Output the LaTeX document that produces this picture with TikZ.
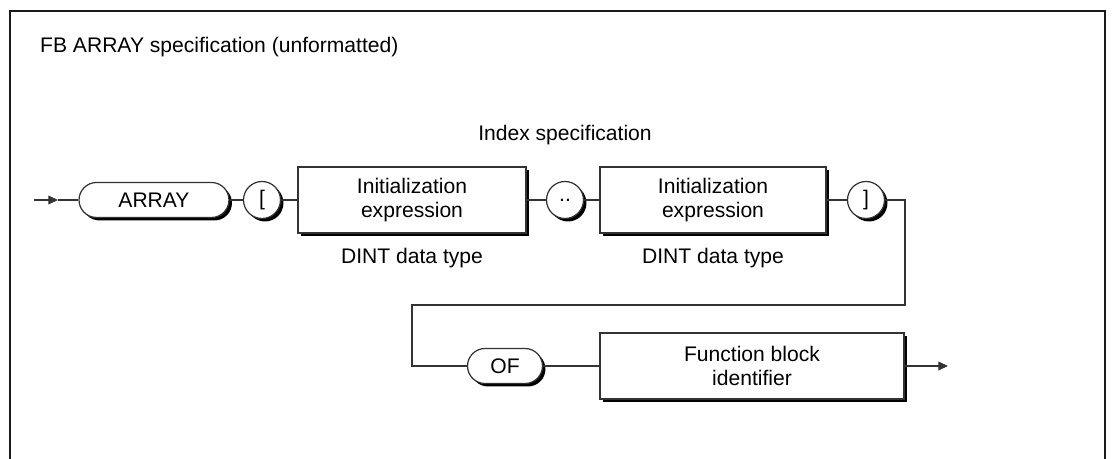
\documentclass[tikz,border=0pt]{standalone}
\usepackage{fontspec}
\setmainfont{Liberation Sans}
\usetikzlibrary{shadows,arrows.meta}
\definecolor{synline}{HTML}{333333}
\definecolor{synframe}{HTML}{1a1a1a}

\tikzset{
  synbox/.style={draw=synline,line width=0.7pt,fill=white,align=center,inner sep=0pt,
    drop shadow={shadow xshift=1.7pt,shadow yshift=-1.7pt,opacity=1,fill=black}},
  synterm/.style={synbox,minimum height=0.7cm,rounded corners=0.35cm},
  syncirc/.style={synbox,circle,minimum size=0.74cm},
  synrule/.style={synbox,minimum height=1.32cm},
  synlink/.style={draw=synline,line width=0.7pt},
  syntip/.style={-{Triangle[length=5.5pt,width=5pt]}},
}

\begin{document}
\begin{tikzpicture}[x=0.02cm,y=-0.02cm,font=\fontsize{12}{13.5}\selectfont]
  \useasboundingbox (0,0) rectangle (1113,459);
  \draw[synframe,line width=1.3pt] (10,459) -- (10,11) -- (1105,11) -- (1105,459);
  \node[anchor=west] (title) at (34,47) {FB ARRAY specification (unformatted)};

  % first row
  \node[synterm,minimum width=3cm] (arr) at (154,200) {ARRAY};
  \node[syncirc] (lbr) at (262,200) {[};
  \node[synrule,minimum width=4.56cm] (init1) at (412,200) {Initialization\\expression};
  \node[syncirc] (dots) at (565,200) {..};
  \node[synrule,minimum width=4.52cm] (init2) at (713,200) {Initialization\\expression};
  \node[syncirc] (rbr) at (866,200) {]};
  \node (idx) at (565,135) {Index specification};
  \node (dint1) at (412,258) {DINT data type};
  \node (dint2) at (713,258) {DINT data type};

  % second row
  \node[synterm,minimum width=1.5cm] (of) at (505,366) {OF};
  \node[synrule,minimum width=6.08cm] (fbid) at (752,366) {Function block\\identifier};

  \coordinate (entry) at (34,200);
  \coordinate (entrytip) at (58,200);
  \coordinate (turnA) at (905,200);
  \coordinate (turnB) at (905,305);
  \coordinate (turnC) at (412,305);
  \coordinate (exit) at (948,366);

  \draw[synlink,syntip] (entry) -- (entrytip);
  \draw[synlink] (entrytip) -- (arr);
  \draw[synlink] (arr) -- (lbr);
  \draw[synlink] (lbr) -- (init1);
  \draw[synlink] (init1) -- (dots);
  \draw[synlink] (dots) -- (init2);
  \draw[synlink] (init2) -- (rbr);
  \draw[synlink] (rbr) -- (turnA) -- (turnB) -- (turnC) |- (of);
  \draw[synlink] (of) -- (fbid);
  \draw[synlink,syntip] (fbid) -- (exit);
\end{tikzpicture}
\end{document}
